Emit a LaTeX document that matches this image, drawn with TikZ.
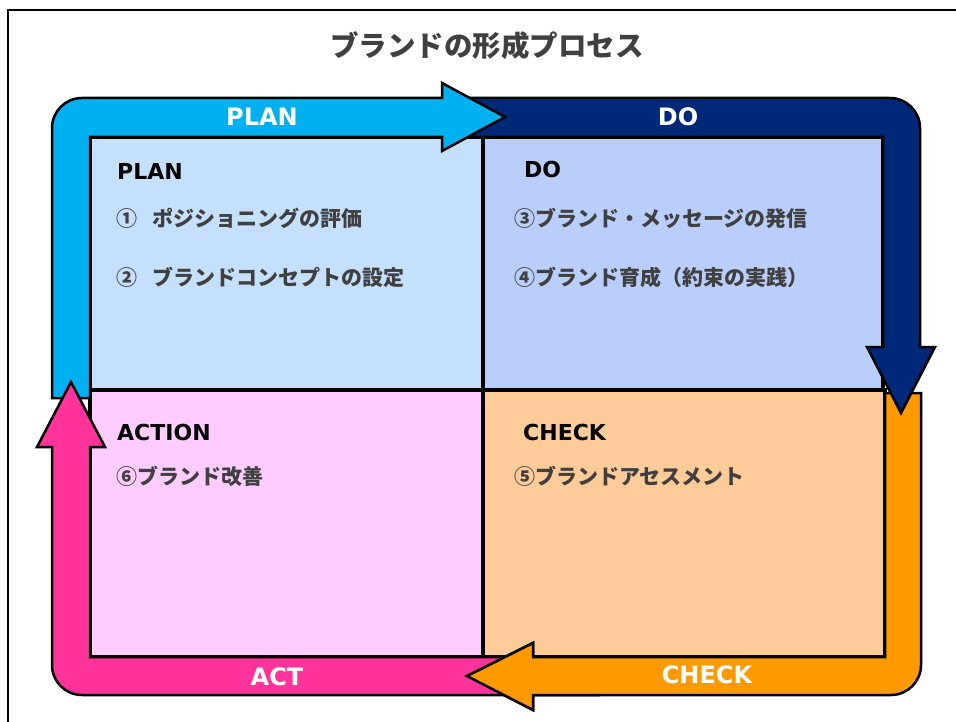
\documentclass[tikz,border=0pt]{standalone}
\usepackage{fontspec}
\setmainfont{DejaVu Sans}
\newfontfamily\jpfont{Noto Sans CJK JP}
\definecolor{planc}{RGB}{0,176,240}
\definecolor{doc}{RGB}{0,40,120}
\definecolor{checkc}{RGB}{255,153,0}
\definecolor{actc}{RGB}{255,51,153}
\definecolor{planbg}{RGB}{197,224,253}
\definecolor{dobg}{RGB}{185,206,250}
\definecolor{actbg}{RGB}{255,204,255}
\definecolor{checkbg}{RGB}{255,204,153}
\definecolor{txtgray}{RGB}{64,64,64}
\tikzset{
  band/.style={draw=black, line width=2.5pt, line join=miter},
  cellbox/.style={draw=black, line width=3.2pt},
  bandlabel/.style={text=white, font=\fontsize{24}{28}\selectfont\bfseries, inner sep=0pt},
  celltitle/.style={anchor=west, text=black, font=\fontsize{22}{26}\selectfont\bfseries, inner sep=0pt},
  jptext/.style={anchor=west, text=txtgray, font=\jpfont\fontsize{21}{25}\selectfont\bfseries, inner sep=0pt},
}
\begin{document}
\begin{tikzpicture}[x=1pt,y=-1pt]
\useasboundingbox (0,0) rectangle (956,722);
\fill[white] (0,0) rectangle (956,722);
% frame
\draw[line width=2pt] (8,740) -- (8,10) -- (970,10);
% title
\node[text=txtgray, font=\jpfont\fontsize{28.5}{32}\selectfont\bfseries, inner sep=0pt] (title) at (487,46) {ブランドの形成プロセス};
% cells
\filldraw[cellbox, fill=planbg] (90,137) rectangle (483,390);
\filldraw[cellbox, fill=dobg] (483,137) rectangle (883,390);
\filldraw[cellbox, fill=actbg] (90,390) rectangle (483,657);
\filldraw[cellbox, fill=checkbg] (483,390) rectangle (885,657);
% CHECK band
\def\checkpath{(885,393) -- (921,393) -- (921,665) arc[start angle=0, end angle=90, radius=30] -- (533,695) -- (533,710) -- (467,676) -- (533,643) -- (533,657) -- (885,657) -- cycle}
\filldraw[band, fill=checkc] \checkpath;
% DO band
\filldraw[band, fill=doc] (470,98) -- (890,98) arc[start angle=-90, end angle=0, radius=30] -- (920,347) -- (935,347) -- (901,413) -- (867,347) -- (883,347) -- (883,137) -- (470,137) -- cycle;
% PLAN band
\filldraw[band, fill=planc] (52,398) -- (52,128) arc[start angle=180, end angle=270, radius=30] -- (442,98) -- (442,83) -- (505,117) -- (442,151) -- (442,137) -- (90,137) -- (90,398) -- cycle;
% ACT band
\filldraw[band, fill=actc] (505,695) -- (82,695) arc[start angle=90, end angle=180, radius=30] -- (52,447) -- (37,447) -- (71,382) -- (105,447) -- (90,447) -- (90,657) -- (505,657) -- cycle;
% CHECK head on top of ACT tail
\begin{scope}
\clip (440,600) rectangle (600,722);
\filldraw[band, fill=checkc] \checkpath;
\end{scope}
% band labels
\node[bandlabel] (lplan) at (262,117) {PLAN};
\node[bandlabel] (ldo) at (678,117) {DO};
\node[bandlabel] (lcheck) at (707,675) {CHECK};
\node[bandlabel] (lact) at (277,677) {ACT};
% cell titles
\node[celltitle] (tplan) at (117,171) {PLAN};
\node[celltitle] (tdo) at (524,169) {DO};
\node[celltitle] (taction) at (117,432) {ACTION};
\node[celltitle] (tcheck) at (523,432) {CHECK};
% cell texts
\node[jptext] (p1) at (116,218) {①\hspace{15pt}ポジショニングの評価};
\node[jptext] (p2) at (116,277) {②\hspace{15pt}ブランドコンセプトの設定};
\node[jptext] (d3) at (514,218) {③ブランド・メッセージの発信};
\node[jptext] (d4) at (514,277) {④ブランド育成（約束の実践）};
\node[jptext] (a6) at (116,476) {⑥ブランド改善};
\node[jptext] (c5) at (514,476) {⑤ブランドアセスメント};
\end{tikzpicture}
\end{document}
